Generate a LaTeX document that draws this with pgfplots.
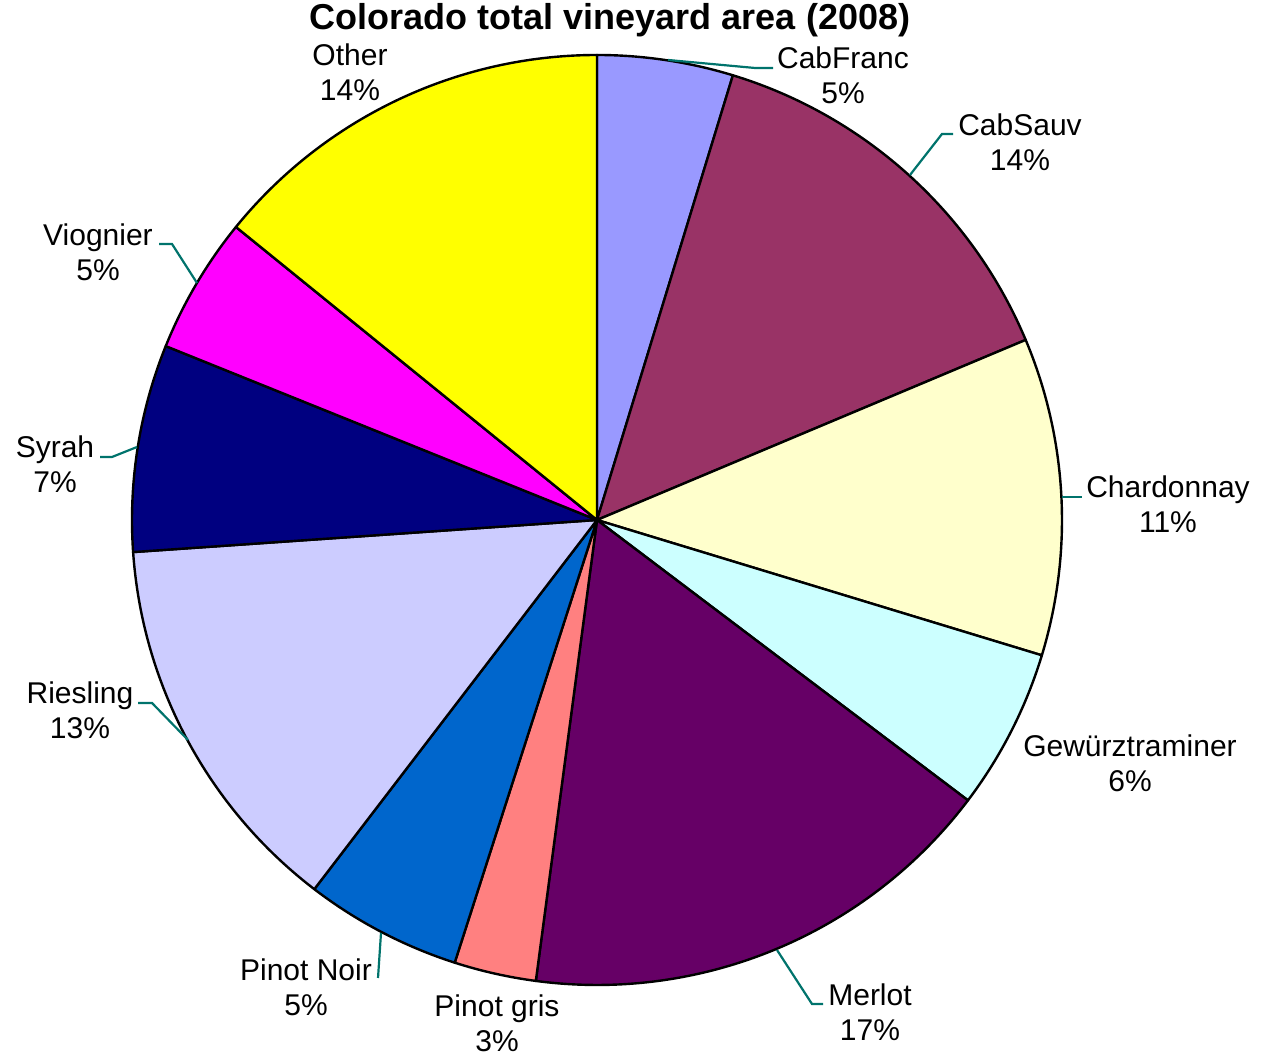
\documentclass[border=0pt]{standalone}
\usepackage{pgfplots}
\usepackage{pgfplotstable}
\pgfplotsset{compat=1.18}
\usepackage{fontspec}
\setmainfont{Liberation Sans}
\definecolor{c0}{HTML}{9999FF}
\definecolor{c1}{HTML}{993366}
\definecolor{c2}{HTML}{FFFFCC}
\definecolor{c3}{HTML}{CCFFFF}
\definecolor{c4}{HTML}{660066}
\definecolor{c5}{HTML}{FF8080}
\definecolor{c6}{HTML}{0066CC}
\definecolor{c7}{HTML}{CCCCFF}
\definecolor{c8}{HTML}{000080}
\definecolor{c9}{HTML}{FF00FF}
\definecolor{c10}{HTML}{FFFF00}
\definecolor{leader}{RGB}{0,115,108}
\tikzset{lbl/.style={font=\fontsize{30}{35}\selectfont, align=center, inner sep=0pt}}
\pgfplotstableread{
name pct
CabFranc 4.72
CabSauv 13.95
Chardonnay 11.03
Gewurztraminer 5.60
Merlot 16.80
Pinotgris 2.85
PinotNoir 5.45
Riesling 13.50
Syrah 7.20
Viognier 4.75
Other 14.15
}\pietable
\begin{document}
\begin{tikzpicture}
\gdef\cum{0}%
\foreach \i in {0,...,10}{%
  \pgfplotstablegetelem{\i}{pct}\of\pietable
  \pgfmathsetmacro\st{90-3.6*\cum}%
  \pgfmathsetmacro\en{90-3.6*(\cum+\pgfplotsretval)}%
  \expandafter\xdef\csname pst\i\endcsname{\st}%
  \expandafter\xdef\csname pen\i\endcsname{\en}%
  \pgfmathsetmacro\newcum{\cum+\pgfplotsretval}%
  \xdef\cum{\newcum}%
}
\begin{axis}[
  scale only axis, width=1262pt, height=1056pt,
  xmin=0, xmax=1262, ymin=0, ymax=1056,
  hide axis, clip=false,
]
\path (axis cs:0,0) rectangle (axis cs:1262,1056);
\pgfplotsextra{%
  \foreach \i in {0,...,10}{%
    \pgfmathsetmacro\sa{\csname pst\i\endcsname}%
    \pgfmathsetmacro\ea{\csname pen\i\endcsname}%
    \filldraw[fill=c\i, draw=black, line width=2.4pt, line join=round]
      (axis cs:597,536) -- ++(\sa:465pt) arc[start angle=\sa, end angle=\ea, radius=465pt] -- cycle;
  }%
}
\addplot[leader, line width=2.2pt, no marks] coordinates {(668,996) (755,988) (773,988)};
\addplot[leader, line width=2.2pt, no marks] coordinates {(910,881) (942,922) (953,922)};
\addplot[leader, line width=2.2pt, no marks] coordinates {(1062,559) (1082,559)};
\addplot[leader, line width=2.2pt, no marks] coordinates {(777,106) (812,52) (823,52)};
\addplot[leader, line width=2.2pt, no marks] coordinates {(381,123) (378,78)};
\addplot[leader, line width=2.2pt, no marks] coordinates {(188,316) (152,353) (138,353)};
\addplot[leader, line width=2.2pt, no marks] coordinates {(137,609) (112,599) (100,599)};
\addplot[leader, line width=2.2pt, no marks] coordinates {(197,773) (172,812) (159,812)};
\node[font=\fontsize{36}{40}\selectfont\bfseries, inner sep=0pt] at (axis cs:610,1036) {Colorado total vineyard area (2008)};
\node[lbl] at (axis cs:350,983.5) {Other\\14\%};
\node[lbl] at (axis cs:843,980.5) {CabFranc\\5\%};
\node[lbl] at (axis cs:1020,913.5) {CabSauv\\14\%};
\node[lbl] at (axis cs:1168,552) {Chardonnay\\11\%};
\node[lbl] at (axis cs:1130,293) {Gewürztraminer\\6\%};
\node[lbl] at (axis cs:870,43.5) {Merlot\\17\%};
\node[lbl] at (axis cs:497,33) {Pinot gris\\3\%};
\node[lbl] at (axis cs:306,69) {Pinot Noir\\5\%};
\node[lbl] at (axis cs:80,346) {Riesling\\13\%};
\node[lbl] at (axis cs:55,591.5) {Syrah\\7\%};
\node[lbl] at (axis cs:98,803.5) {Viognier\\5\%};
\end{axis}
\end{tikzpicture}
\end{document}
